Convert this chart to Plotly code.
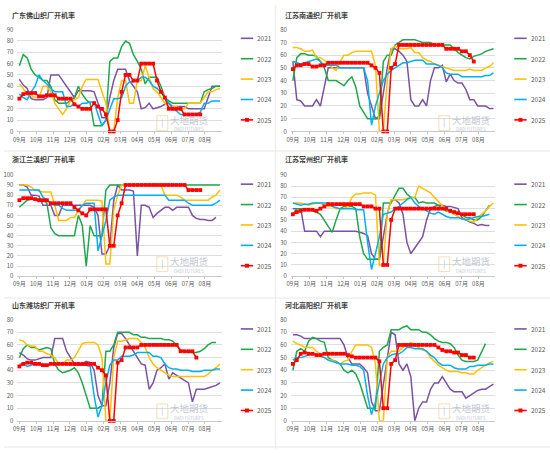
import plotly.graph_objects as go

W, H = 550, 453

months = ["09月", "10月", "11月", "12月", "01月", "02月", "03月", "04月", "05月", "06月", "07月", "08月"]
years = ["2021", "2022", "2023", "2024", "2025"]
colors = ["#7B52A6", "#1EA84B", "#FFC000", "#00B0F0", "#FF0000"]
weeks = list(range(52))

titles = ["广东佛山织厂开机率", "江苏南通织厂开机率", "浙江兰溪织厂开机率",
          "江苏常州织厂开机率", "山东潍坊织厂开机率", "河北高阳织厂开机率"]
y_max = [90, 80, 100, 90, 80, 80]

# ---- 广东佛山 ----
foshan_2021 = [46, 41, 38, 29, 28, 28, 28, 30, 50, 50,
               50, 45, 40, 35, 30, 36, 36, 36, 36, 35,
               25, 12, 12, 30, 45, 55, 55, 55, 45, 40,
               35, 20, 21, 25, 20, 21, 22, 24, 25, 22,
               22, 22, 22, 20, 20, 20, 20, 20, 30, 40,
               40, 40]
foshan_2022 = [58, 68, 65, 55, 50, 48, 45, 45, 40, 28,
               25, 25, 25, 27, 30, 40, 33, 28, 25, 5,
               5, 5, 10, 62, 65, 65, 75, 80, 78, 68,
               62, 55, 42, 48, 48, 48, 40, 30, 27, 25,
               25, 25, 25, 25, 25, 25, 25, 35, 37, 38,
               40, 40]
foshan_2023 = [42, 38, 32, 32, 30, 30, 40, 40, 35, 25,
               20, 15, 20, 27, 28, 30, 40, 46, 46, 46,
               46, 35, 25, 0, 0, 30, 45, 45, 25, 25,
               45, 45, 58, 48, 38, 35, 30, 25, 22, 22,
               22, 20, 20, 25, 25, 25, 25, 30, 35, 35,
               37, 38]
foshan_2024 = [33, 30, 28, 35, 40, 50, 45, 42, 38, 35,
               35, 35, 22, 22, 25, 22, 25, 25, 26, 26,
               15, 5, 10, 20, 29, 29, 30, 40, 44, 44,
               45, 48, 48, 45, 40, 38, 35, 30, 25, 20,
               18, 15, 15, 15, 15, 15, 17, 25, 25, 27,
               27, 27]
foshan_2025 = [29, 33, 34, 34, 34, 31, 31, 32, 32, 32,
               29, 29, 29, 29, 24, 22, 20, 20, 20, 25,
               22, 20, 15, 0, 0, 10, 35, 50, 50, 45,
               45, 60, 60, 60, 60, 45, 35, 30, 20, 20,
               20, 20, 15, 15, 15, 15, 15, None, None, None,
               None, None]

# ---- 江苏南通 ----
nantong_2021 = [55, 25, 24, 20, 20, 20, 25, 20, 35, 50,
                50, 50, 50, 50, 50, 50, 50, 50, 50, 30,
                20, 10, 10, 30, 50, 65, 65, 63, 60, 55,
                25, 20, 20, 25, 20, 40, 50, 50, 52, 39,
                45, 40, 38, 38, 33, 25, 25, 20, 20, 20,
                18, 18]
nantong_2022 = [40, 58, 61, 61, 60, 60, 59, 55, 50, 40,
                40, 40, 38, 36, 40, 43, 35, 20, 15, 10,
                10, 10, 12, 55, 60, 60, 68, 70, 72, 72,
                72, 72, 71, 70, 70, 70, 68, 68, 68, 68,
                68, 65, 62, 60, 58, 57, 59, 60, 61, 63,
                64, 65]
nantong_2023 = [66, 66, 65, 63, 63, 64, 58, 58, 56, 53,
                50, 48, 55, 60, 60, 62, 63, 63, 63, 63,
                63, 52, 0, 0, 40, 65, 67, 65, 65, 65,
                66, 62, 62, 58, 56, 55, 53, 52, 51, 50,
                49, 48, 48, 48, 48, 49, 48, 48, 48, 50,
                51, 54]
nantong_2024 = [55, 54, 53, 54, 55, 56, 57, 55, 52, 52,
                52, 52, 50, 50, 50, 50, 50, 50, 50, 40,
                5, 20, 30, 40, 45, 48, 50, 52, 54, 54,
                55, 56, 56, 56, 53, 53, 53, 52, 50, 46,
                45, 45, 45, 43, 43, 43, 43, 43, 43, 44,
                44, 46]
nantong_2025 = [49, 52, 52, 53, 53, 51, 51, 52, 52, 54,
                54, 54, 54, 54, 54, 54, 54, 54, 54, 54,
                52, 50, 46, 0, 0, 50, 53, 68, 68, 68,
                68, 68, 68, 68, 68, 68, 68, 68, 68, 65,
                65, 65, 65, 63, 63, 60, 55, None, None, None,
                None, None]

# ---- 浙江兰溪 ----
lanxi_2021 = [90, 90, 88, 80, 80, 79, 70, 70, 70, 60,
              60, 70, 70, 70, 70, 70, 70, 70, 70, 68,
              60, 22, 22, 30, 75, 90, 85, 85, 85, 84,
              20, 70, 70, 68, 58, 62, 65, 68, 68, 65,
              68, 68, 68, 68, 60, 57, 56, 56, 55, 55,
              58, None]
lanxi_2022 = [68, 72, 75, 76, 76, 76, 75, 72, 48, 42,
              40, 40, 40, 40, 40, 60, 50, 10, 50, 40,
              40, 40, 85, 90, 90, 90, 90, 90, 90, 90,
              90, 90, 90, 90, 90, 90, 90, 90, 90, 90,
              90, 90, 90, 90, 90, 90, 90, 90, 90, 90,
              90, 90]
lanxi_2023 = [90, 90, 90, 88, 85, 84, 83, 83, 83, 70,
              55, 55, 55, 58, 58, 65, 70, 75, 75, 75,
              75, 74, 12, 12, 65, 80, 90, 90, 90, 90,
              90, 90, 90, 90, 90, 90, 90, 80, 80, 80,
              80, 78, 75, 75, 75, 75, 75, 75, 75, 78,
              80, 85]
lanxi_2024 = [85, 85, 85, 85, 85, 85, 78, 75, 72, 70,
              70, 67, 65, 65, 65, 65, 70, 72, 72, 72,
              25, 40, 55, 75, 78, 80, 80, 80, 80, 80,
              80, 80, 80, 80, 80, 80, 80, 80, 75, 75,
              75, 75, 75, 72, 70, 70, 70, 70, 70, 70,
              72, 75]
lanxi_2025 = [75, 77, 77, 77, 76, 75, 75, 75, 72, 72,
              72, 72, 72, 72, 68, 65, 62, 60, 66, 66,
              66, 66, 66, 30, 30, 60, 72, 90, 90, 90,
              90, 90, 90, 90, 90, 90, 90, 90, 90, 90,
              90, 90, 90, 85, 85, 85, 85, None, None, None,
              None, None]

# ---- 江苏常州 ----
changzhou_2021 = [60, 60, 60, 40, 40, 40, 40, 35, 40, 40,
                  40, 40, 40, 40, 40, 40, 40, 39, 38, 36,
                  20, 15, 15, 35, 55, 68, 68, 65, 55, 30,
                  20, 25, 30, 35, 50, 60, 62, 63, 63, 62,
                  62, 61, 60, 52, 50, 48, 47, 45, 46, 45,
                  45, None]
changzhou_2022 = [55, 60, 60, 60, 60, 58, 57, 55, 50, 45,
                  39, 50, 60, 62, 62, 62, 60, 35, 20, 15,
                  15, 15, 15, 65, 65, 65, 72, 78, 78, 73,
                  70, 70, 65, 66, 65, 65, 65, 63, 60, 58,
                  58, 57, 55, 55, 52, 52, 50, 50, 53, 58,
                  63, None]
changzhou_2023 = [65, 65, 65, 64, 63, 64, 65, 65, 63, 62,
                  62, 60, 60, 60, 62, 70, 73, 73, 74, 74,
                  74, 72, 10, 10, 55, 68, 68, 68, 68, 69,
                  70, 70, 80, 78, 76, 74, 70, 66, 62, 59,
                  57, 55, 53, 51, 50, 49, 48, 52, 55, 58,
                  62, 65]
changzhou_2024 = [65, 64, 63, 64, 64, 65, 65, 65, 65, 65,
                  62, 61, 60, 60, 60, 60, 59, 59, 59, 30,
                  6, 20, 35, 55, 56, 57, 60, 62, 65, 68,
                  70, 65, 62, 60, 58, 56, 55, 57, 55, 53,
                  52, 52, 52, 51, 50, 51, 52, 53, 53, 54,
                  55, None]
changzhou_2025 = [55, 57, 58, 59, 59, 59, 58, 60, 62, 64,
                  64, 64, 64, 64, 64, 64, 64, 64, 62, 62,
                  62, 60, 60, 10, 10, 50, 60, 60, 60, 60,
                  60, 60, 60, 60, 60, 60, 60, 60, 60, 60,
                  58, 57, 56, 55, 55, 55, 55, None, None, None,
                  None, None]

# ---- 山东潍坊 ----
weifang_2021 = [54, 52, 49, 48, 48, 49, 50, 50, 50, 65,
                65, 65, 55, 50, 45, 44, 45, 47, 46, 40,
                20, 12, 12, 30, 58, 69, 69, 65, 60, 55,
                50, 45, 44, 25, 30, 40, 42, 45, 33, 38,
                36, 34, 32, 30, 15, 25, 25, 25, 26, 27,
                28, 30]
weifang_2022 = [50, 57, 60, 58, 58, 56, 57, 58, 57, 45,
                40, 38, 39, 40, 42, 38, 30, 20, 10, 10,
                10, 12, 55, 55, 60, 70, 70, 70, 70, 68,
                68, 66, 66, 65, 65, 65, 65, 64, 64, 63,
                60, 56, 55, 54, 54, 54, 55, 57, 60, 62,
                62, None]
weifang_2023 = [64, 63, 60, 59, 59, 55, 55, 53, 52, 50,
                45, 45, 48, 48, 50, 55, 61, 62, 62, 62,
                60, 50, 0, 0, 50, 63, 63, 64, 65, 65,
                65, 62, 58, 50, 45, 42, 40, 38, 36, 35,
                35, 35, 35, 35, 35, 35, 35, 35, 37, 40,
                42, 45]
weifang_2024 = [45, 45, 43, 44, 45, 45, 45, 44, 45, 45,
                45, 45, 45, 44, 44, 44, 44, 44, 43, 20,
                3, 12, 30, 44, 48, 48, 51, 51, 51, 52,
                54, 54, 54, 54, 51, 51, 50, 45, 42, 41,
                41, 40, 40, 40, 39, 39, 39, 40, 40, 40,
                41, 41]
weifang_2025 = [43, 45, 46, 46, 45, 45, 44, 44, 45, 45,
                45, 45, 45, 45, 45, 45, 45, 45, 45, 45,
                42, 40, 36, 0, 0, 46, 48, 58, 58, 58,
                58, 60, 60, 60, 60, 60, 60, 60, 60, 60,
                60, 55, 55, 55, 55, 50, None, None, None, None,
                None, None]

# ---- 河北高阳 ----
gaoyang_2021 = [68, 68, 67, 65, 65, 65, 65, 65, 65, 65,
                65, 65, 65, 60, 50, 45, 45, 45, 42, 38,
                15, 8, 8, 30, 50, 70, 68, 45, 40, 45,
                35, 0, 10, 15, 15, 25, 30, 30, 35, 30,
                25, 23, 23, 23, 18, 20, 22, 24, 25, 25,
                27, 29]
gaoyang_2022 = [40, 55, 57, 55, 63, 66, 65, 63, 62, 50,
                48, 47, 45, 40, 38, 40, 37, 30, 20, 10,
                10, 10, 55, 58, 60, 72, 72, 72, 74, 75,
                72, 72, 72, 70, 70, 68, 65, 63, 62, 62,
                61, 58, 52, 48, 47, 47, 47, 48, 55, 61,
                None, None]
gaoyang_2023 = [63, 61, 60, 58, 58, 58, 55, 53, 50, 48,
                48, 46, 45, 47, 48, 55, 60, 60, 60, 60,
                58, 45, 0, 0, 50, 55, 55, 55, 58, 60,
                62, 60, 58, 56, 55, 50, 47, 44, 42, 40,
                39, 39, 39, 38, 38, 37, 37, 40, 42, 44,
                46, 47]
gaoyang_2024 = [48, 50, 50, 51, 52, 53, 52, 51, 50, 48,
                47, 46, 45, 45, 45, 44, 44, 43, 40, 20,
                5, 15, 30, 45, 50, 52, 53, 53, 55, 58,
                58, 57, 57, 57, 55, 52, 50, 46, 44, 44,
                44, 42, 41, 41, 41, 43, 43, 44, 44, 44,
                45, 45]
gaoyang_2025 = [45, 48, 53, 54, 53, 53, 52, 52, 53, 53,
                53, 53, 53, 53, 52, 51, 50, 50, 50, 50,
                50, 50, 47, 10, 10, 45, 48, 60, 60, 60,
                60, 60, 60, 60, 60, 60, 60, 58, 56, 55,
                55, 54, 54, 52, 52, 50, 50, None, None, None,
                None, None]

panels = [
    [foshan_2021, foshan_2022, foshan_2023, foshan_2024, foshan_2025],
    [nantong_2021, nantong_2022, nantong_2023, nantong_2024, nantong_2025],
    [lanxi_2021, lanxi_2022, lanxi_2023, lanxi_2024, lanxi_2025],
    [changzhou_2021, changzhou_2022, changzhou_2023, changzhou_2024, changzhou_2025],
    [weifang_2021, weifang_2022, weifang_2023, weifang_2024, weifang_2025],
    [gaoyang_2021, gaoyang_2022, gaoyang_2023, gaoyang_2024, gaoyang_2025],
]

# ---------------- layout geometry (pixels) ----------------
FONT = "Noto Sans CJK SC"
col_x = [(13.5, 219.5), (289.0, 495.0)]
row_y = [(25.2, 129.0), (173.3, 276.7), (321.0, 424.3)]
title_x = [6, 281]
title_y = [10, 157.5, 306]
leg_line_x = [(238.5, 251.0), (514.0, 526.5)]
leg_y0 = [34.0, 182.8, 330.5]
leg_dy = 20.8
wm_x = [186, 470]
wm_y = [117, 261, 411]

def px(x):
    return x / W

def py(y):
    return 1 - y / H

tick_pos = [i * 4.29 for i in range(12)]

fig = go.Figure()
shapes = []
annotations = []

WM = "#c3c8d2"

for k, series in enumerate(panels):
    r, c = divmod(k, 2)
    ax = "" if k == 0 else str(k + 1)
    for yi, (yr, vals, col) in enumerate(zip(years, series, colors)):
        is25 = yr == "2025"
        fig.add_trace(go.Scatter(
            x=weeks, y=vals, name=yr,
            xaxis="x" + ax, yaxis="y" + ax,
            mode="lines+markers" if is25 else "lines",
            line=dict(color=col, width=1.5),
            marker=dict(symbol="square", size=3.8, color=col) if is25 else None,
            cliponaxis=False, showlegend=False, connectgaps=False,
            hoverinfo="x+y+name",
        ))
    x0, x1 = col_x[c]
    ytop, ybot = row_y[r]
    fig.layout["xaxis" + ax] = dict(
        domain=[px(x0), px(x1)], range=[-0.5, 51.5],
        anchor="y" + ax, tickmode="array", tickvals=tick_pos, ticktext=months,
        showgrid=False, zeroline=False, showline=True, linecolor="#c8c8c8", linewidth=1,
        ticks="outside", ticklen=2, tickcolor="#c8c8c8",
        tickfont=dict(size=6, color="#595959", family=FONT),
        fixedrange=True,
    )
    fig.layout["yaxis" + ax] = dict(
        domain=[py(ybot), py(ytop)], range=[0, y_max[k]], dtick=10,
        anchor="x" + ax, showgrid=True, gridcolor="#dedede", gridwidth=0.8,
        zeroline=False, showline=False, ticks="", ticklabelstandoff=3,
        tickfont=dict(size=6, color="#595959", family=FONT),
        fixedrange=True,
    )
    # panel title
    annotations.append(dict(
        text="<b>" + titles[k] + "</b>", xref="paper", yref="paper",
        x=px(title_x[c]), y=py(title_y[r]), xanchor="left", yanchor="middle",
        showarrow=False, font=dict(size=7, color="#404040", family=FONT)))
    # watermark
    wx = wm_x[c]
    wy = wm_y[r]
    annotations.append(dict(
        text="大地期货", xref="paper", yref="paper", x=px(wx), y=py(wy),
        xanchor="center", yanchor="middle", showarrow=False, borderpad=0,
        font=dict(size=9.5, color=WM, family=FONT)))
    annotations.append(dict(
        text="DADI FUTURES", xref="paper", yref="paper", x=px(wx), y=py(wy + 10),
        xanchor="center", yanchor="middle", showarrow=False, borderpad=0,
        font=dict(size=4.3, color=WM, family=FONT)))
    shapes.append(dict(
        type="rect", xref="paper", yref="paper",
        x0=px(wx - 32), x1=px(wx - 21), y0=py(wy + 11), y1=py(wy - 4),
        line=dict(color="rgba(225,200,130,0.55)", width=1), fillcolor="rgba(0,0,0,0)"))
    shapes.append(dict(
        type="line", xref="paper", yref="paper",
        x0=px(wx - 26.5), x1=px(wx - 26.5), y0=py(wy + 8), y1=py(wy - 1),
        line=dict(color="rgba(170,190,220,0.55)", width=1)))
    # legend
    lx0, lx1 = leg_line_x[c]
    for yi, (yr, col) in enumerate(zip(years, colors)):
        ly = leg_y0[r] + yi * leg_dy
        shapes.append(dict(type="line", xref="paper", yref="paper",
                           x0=px(lx0), x1=px(lx1), y0=py(ly), y1=py(ly),
                           line=dict(color=col, width=1.6)))
        if yr == "2025":
            mx = (lx0 + lx1) / 2
            shapes.append(dict(type="rect", xref="paper", yref="paper",
                               x0=px(mx - 2), x1=px(mx + 2), y0=py(ly + 2), y1=py(ly - 2),
                               line=dict(width=0), fillcolor=col))
        annotations.append(dict(
            text=yr, xref="paper", yref="paper", x=px(lx1 + 2), y=py(ly),
            xanchor="left", yanchor="middle", showarrow=False,
            font=dict(size=6.5, color="#595959", family=FONT)))

# faint panel separators
shapes.append(dict(type="line", xref="paper", yref="paper", x0=px(273.5), x1=px(273.5),
                   y0=0, y1=1, line=dict(color="#efefef", width=1.5), layer="below"))
for yy in (149, 299, 451):
    shapes.append(dict(type="line", xref="paper", yref="paper", x0=0, x1=1,
                       y0=py(yy), y1=py(yy), line=dict(color="#efefef", width=1.5), layer="below"))

fig.update_layout(
    width=W, height=H, margin=dict(l=0, r=0, t=0, b=0),
    paper_bgcolor="white", plot_bgcolor="white",
    showlegend=False, shapes=shapes, annotations=annotations,
    font=dict(family=FONT, color="#595959"),
)

fig.write_html("out.html", config={"displayModeBar": False},
               post_script="document.body.style.margin='0';document.body.style.overflow='hidden';")
